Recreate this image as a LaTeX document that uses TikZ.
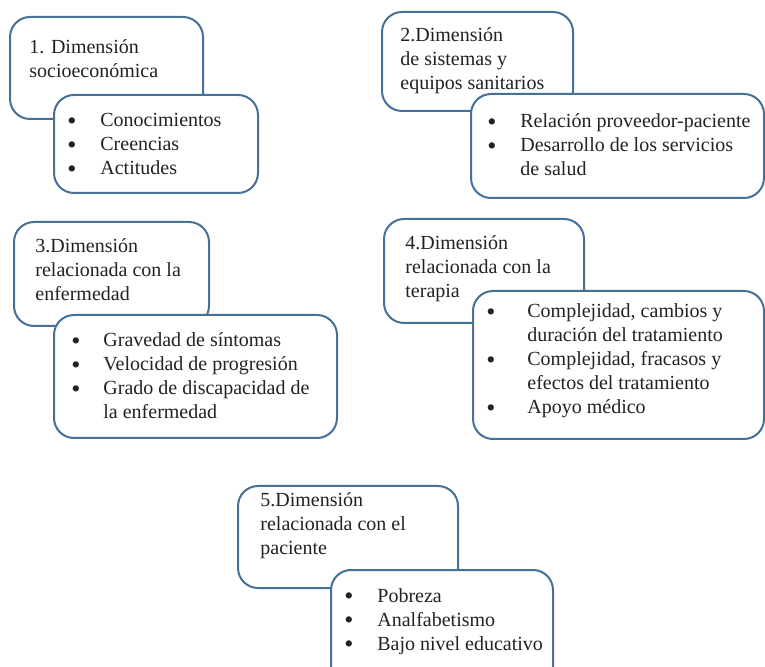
\documentclass[tikz,border=0pt]{standalone}
\usepackage{fontspec}
\setmainfont{Liberation Serif}
\usepackage{tikz}
\definecolor{boxblue}{HTML}{44709A}
\definecolor{boxtext}{HTML}{222222}
\tikzset{
    dimbox/.style={draw=boxblue, line width=1pt, rounded corners=10pt, fill=white,
        anchor=north west, inner sep=0pt},
    dimtext/.style={anchor=base west, inner sep=0pt, text=boxtext,
        font=\rmfamily\fontsize{10}{12}\selectfont},
}
\newcommand{\headlines}[1]{\begin{tabular}[t]{@{}l@{}}#1\end{tabular}}
\newcommand{\bulletlines}[2]{\begin{tabular}[t]{@{}p{#1}@{}l@{}}#2\end{tabular}}
\newcommand{\bul}{\raisebox{-1.3pt}{\fontsize{13}{12}\selectfont\textbullet}}

\begin{document}
\begin{tikzpicture}[x=0.5pt, y=-0.5pt]
\useasboundingbox (0,0) rectangle (765,667);

% 1
\node[dimbox, minimum width=96.5pt, minimum height=51pt] (head1) at (9,16) {};
\node[dimtext] (txthead1) at (29,54) {\headlines{1. Dimensión\\socioeconómica}};
\node[dimbox, minimum width=102pt, minimum height=49pt] (list1) at (53,94) {};
\node[dimtext] (txtlist1) at (67,127) {\bulletlines{16.5pt}{\bul & Conocimientos\\ \bul & Creencias\\ \bul & Actitudes}};

% 2
\node[dimbox, minimum width=95.5pt, minimum height=49.5pt] (head2) at (381,11) {};
\node[dimtext] (txthead2) at (400,42) {\headlines{2.Dimensión\\de sistemas y\\equipos sanitarios}};
\node[dimbox, minimum width=146.5pt, minimum height=52pt] (list2) at (470,93) {};
\node[dimtext] (txtlist2) at (487,128) {\bulletlines{16.5pt}{\bul & Relación proveedor-paciente\\ \bul & Desarrollo de los servicios\\ & de salud}};

% 3
\node[dimbox, minimum width=97.5pt, minimum height=52pt] (head3) at (13,221) {};
\node[dimtext] (txthead3) at (35,253) {\headlines{3.Dimensión\\relacionada con la\\enfermedad}};
\node[dimbox, minimum width=141.5pt, minimum height=61.5pt] (list3) at (53,314) {};
\node[dimtext] (txtlist3) at (71,347) {\bulletlines{16pt}{\bul & Gravedad de síntomas\\ \bul & Velocidad de progresión\\ \bul & Grado de discapacidad de\\ & la enfermedad}};

% 4
\node[dimbox, minimum width=100pt, minimum height=52pt] (head4) at (383,218) {};
\node[dimtext] (txthead4) at (405,250) {\headlines{4.Dimensión\\relacionada con la\\terapia}};
\node[dimbox, minimum width=145.5pt, minimum height=74pt] (list4) at (472,290) {};
\node[dimtext] (txtlist4) at (486,318) {\bulletlines{20.5pt}{\bul & Complejidad, cambios y\\ & duración del tratamiento\\ \bul & Complejidad, fracasos y\\ & efectos del tratamiento\\ \bul & Apoyo médico}};

% 5
\node[dimbox, minimum width=110pt, minimum height=51pt] (head5) at (237,485) {};
\node[dimtext] (txthead5) at (260,507) {\headlines{5.Dimensión\\relacionada con el\\paciente}};
\node[dimbox, minimum width=111pt, minimum height=60pt] (list5) at (330,569) {};
\node[dimtext] (txtlist5) at (344,602) {\bulletlines{16.5pt}{\bul & Pobreza\\ \bul & Analfabetismo\\ \bul & Bajo nivel educativo}};
\end{tikzpicture}
\end{document}
